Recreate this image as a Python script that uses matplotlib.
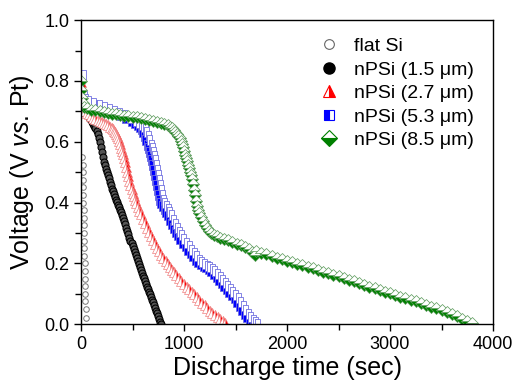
import numpy as np
import matplotlib
matplotlib.use("Agg")
import matplotlib.pyplot as plt
from matplotlib.lines import Line2D
from matplotlib.ticker import MultipleLocator, FormatStrFormatter

plt.rcParams['font.family'] = ['Liberation Sans', 'DejaVu Sans']
plt.rcParams['mathtext.fontset'] = 'custom'
plt.rcParams['mathtext.it'] = 'Liberation Sans:italic'
plt.rcParams['mathtext.rm'] = 'Liberation Sans'

# discharge curves (time in s, voltage in V vs Pt)
t_flat = [14, 15, 17, 18, 20, 21, 23, 24, 26, 27, 29, 30, 32, 33, 35, 36, 38, 39, 41, 42, 44, 45]
v_flat = [0.55, 0.525, 0.50, 0.475, 0.45, 0.425, 0.40, 0.375, 0.35, 0.325, 0.30, 0.275,
          0.25, 0.225, 0.20, 0.175, 0.15, 0.125, 0.10, 0.075, 0.05, 0.02]

t_15 = [0, 15, 30, 45, 60, 75, 90, 100, 110, 120, 130, 140, 150, 160, 170, 180, 190, 200,
        210, 220, 230, 240, 250, 260, 270, 280, 290, 300, 310, 320, 330, 340, 350, 360, 370,
        380, 390, 400, 410, 420, 430, 440, 450, 460, 470, 480, 490, 500, 510, 520, 530, 540,
        550, 560, 570, 580, 590, 600, 610, 620, 630, 640, 650, 660, 670, 680, 690, 700, 710,
        720, 730, 740, 750, 760, 770, 778]
v_15 = [0.700, 0.698, 0.695, 0.691, 0.687, 0.682, 0.676, 0.671, 0.665, 0.659, 0.652, 0.645,
        0.636, 0.626, 0.613, 0.598, 0.582, 0.565, 0.549, 0.535, 0.523, 0.512, 0.502, 0.492,
        0.480, 0.468, 0.457, 0.446, 0.437, 0.428, 0.419, 0.410, 0.401, 0.393, 0.385, 0.377,
        0.369, 0.360, 0.350, 0.340, 0.329, 0.318, 0.307, 0.296, 0.285, 0.275, 0.266, 0.257,
        0.248, 0.238, 0.228, 0.218, 0.207, 0.197, 0.187, 0.178, 0.169, 0.160, 0.151, 0.142,
        0.133, 0.124, 0.116, 0.107, 0.099, 0.090, 0.081, 0.072, 0.063, 0.054, 0.045, 0.036,
        0.027, 0.018, 0.009, 0.002]

t_27 = [0, 5, 20, 40, 60, 80, 100, 120, 140, 160, 180, 200, 220, 240, 260, 280, 300,
        310, 320, 330, 340, 350, 360, 370, 380, 390, 400, 410, 420, 430, 440, 450, 460, 470,
        480, 490, 500, 510, 520, 535, 550, 565, 580, 600, 620, 640, 660, 680, 700, 720, 740,
        760, 780, 800, 820, 840, 860, 880, 900, 925, 950, 975, 1000, 1025, 1050, 1075, 1100,
        1125, 1150, 1175, 1200, 1225, 1250, 1275, 1300, 1325, 1350, 1375, 1400]
v_27 = [0.795, 0.720, 0.703, 0.700, 0.695, 0.690, 0.684, 0.678, 0.674, 0.671, 0.668, 0.666,
        0.663, 0.660, 0.655, 0.650, 0.644, 0.641, 0.637, 0.632, 0.626, 0.620, 0.612, 0.603,
        0.592, 0.581, 0.570, 0.559, 0.548, 0.533, 0.518, 0.502, 0.487, 0.472, 0.458, 0.445,
        0.432, 0.421, 0.410, 0.398, 0.386, 0.374, 0.362, 0.346, 0.332, 0.318, 0.304, 0.290,
        0.277, 0.264, 0.252, 0.240, 0.229, 0.218, 0.207, 0.197, 0.188, 0.179, 0.171, 0.161,
        0.151, 0.142, 0.133, 0.124, 0.116, 0.107, 0.098, 0.089, 0.080, 0.071, 0.062, 0.053,
        0.045, 0.037, 0.030, 0.023, 0.016, 0.010, 0.004]

t_53 = [0, 5, 20, 50, 100, 150, 200, 250, 300, 350, 400, 450, 500, 530, 560, 580, 600, 615,
        630, 645, 660, 670, 680, 690, 700, 710, 720, 730, 740, 750, 760, 770, 780, 790, 805,
        820, 835, 850, 870, 890, 910, 930, 950, 975, 1000, 1025, 1050, 1075, 1100, 1125, 1150,
        1175, 1200, 1225, 1250, 1275, 1300, 1325, 1350, 1375, 1400, 1425, 1450, 1475, 1500,
        1525, 1550, 1575, 1600, 1625, 1650, 1670, 1685]
v_53 = [0.820, 0.750, 0.740, 0.735, 0.728, 0.722, 0.716, 0.709, 0.702, 0.695, 0.687, 0.679,
        0.669, 0.663, 0.656, 0.650, 0.641, 0.632, 0.620, 0.606, 0.590, 0.578, 0.565, 0.553,
        0.540, 0.524, 0.508, 0.491, 0.474, 0.457, 0.440, 0.425, 0.410, 0.398, 0.388, 0.378,
        0.368, 0.358, 0.344, 0.331, 0.318, 0.304, 0.293, 0.280, 0.267, 0.256, 0.245, 0.234,
        0.223, 0.213, 0.205, 0.199, 0.193, 0.187, 0.181, 0.174, 0.166, 0.157, 0.147, 0.136,
        0.126, 0.117, 0.107, 0.096, 0.086, 0.072, 0.059, 0.047, 0.035, 0.024, 0.013, 0.006,
        0.002]

t_85 = [0, 3, 8, 15, 30, 60, 100, 140, 180, 220, 260, 300, 340, 380, 420, 460, 500, 540, 580,
        620, 660, 700, 740, 780, 810, 840, 860, 880, 900, 915, 930, 945, 960, 970, 980, 990,
        1000, 1010, 1020, 1030, 1040, 1050, 1060, 1070, 1080, 1090, 1100, 1110, 1120, 1130,
        1140, 1150, 1165, 1180, 1200, 1220, 1240, 1260, 1290, 1320, 1350, 1390, 1430, 1470,
        1510, 1550, 1590, 1630, 1660, 1690, 1700, 1750, 1800, 1850, 1900, 1950, 2000, 2050,
        2100, 2150, 2200, 2250, 2300, 2350, 2400, 2450, 2500, 2550, 2600, 2650, 2700, 2750,
        2800, 2850, 2900, 2950, 3000, 3050, 3100, 3150, 3200, 3250, 3300, 3350, 3400, 3450,
        3500, 3550, 3600, 3650, 3700, 3750, 3800]
v_85 = [0.800, 0.770, 0.745, 0.728, 0.716, 0.710, 0.706, 0.703, 0.700, 0.698, 0.695, 0.693,
        0.691, 0.689, 0.686, 0.684, 0.682, 0.680, 0.678, 0.676, 0.673, 0.670, 0.666, 0.662,
        0.659, 0.655, 0.650, 0.645, 0.639, 0.633, 0.626, 0.619, 0.611, 0.603, 0.594, 0.583,
        0.571, 0.558, 0.547, 0.536, 0.524, 0.513, 0.502, 0.491, 0.477, 0.461, 0.442, 0.424,
        0.406, 0.389, 0.375, 0.365, 0.352, 0.340, 0.326, 0.316, 0.307, 0.300, 0.294, 0.290,
        0.285, 0.281, 0.277, 0.271, 0.265, 0.260, 0.254, 0.247, 0.239, 0.229, 0.240, 0.235,
        0.230, 0.225, 0.219, 0.214, 0.209, 0.204, 0.199, 0.194, 0.189, 0.184, 0.178, 0.173,
        0.168, 0.163, 0.158, 0.153, 0.147, 0.142, 0.136, 0.130, 0.124, 0.118, 0.112, 0.107,
        0.102, 0.096, 0.091, 0.086, 0.080, 0.075, 0.069, 0.063, 0.058, 0.052, 0.046, 0.040,
        0.033, 0.026, 0.019, 0.011, 0.004]

labels = ['flat Si', 'nPSi (1.5 μm)', 'nPSi (2.7 μm)', 'nPSi (5.3 μm)', 'nPSi (8.5 μm)']

fig = plt.figure(figsize=(5.13, 3.87), dpi=100)
ax = fig.add_axes([0.158, 0.162, 0.803, 0.786])

ax.plot(t_flat, v_flat, ls='none', marker='o', ms=4, mfc='white', mec='#777777', mew=0.7)
ax.plot(t_15, v_15, color='black', lw=1.5, marker='o', ms=5, mfc='#555555', mec='black', mew=0.8)
ax.plot(t_27, v_27, color='red', lw=1.5, marker='^', ms=6.5, fillstyle='right',
        mfc='red', mfcalt='white', mec='#f08080', mew=0.5)
ax.plot(t_53, v_53, color='blue', lw=3.5, marker='s', ms=6.5, fillstyle='left',
        mfc='blue', mfcalt='white', mec='#7070e0', mew=0.6)
ax.plot(t_85, v_85, color='green', lw=2, marker='D', ms=6.5, fillstyle='bottom',
        mfc='green', mfcalt='white', mec='#5a9a5a', mew=0.5)

handles = [
    Line2D([], [], ls='none', marker='o', ms=7, mfc='white', mec='#666666', mew=0.8),
    Line2D([], [], ls='none', marker='o', ms=8, mfc='black', mec='black'),
    Line2D([], [], ls='none', marker='^', ms=9, fillstyle='right', mfc='red',
           mfcalt='white', mec='red', mew=0.8),
    Line2D([], [], ls='none', marker='s', ms=7.5, fillstyle='left', mfc='blue',
           mfcalt='white', mec='blue', mew=0.8),
    Line2D([], [], ls='none', marker='D', ms=8, fillstyle='bottom', mfc='green',
           mfcalt='white', mec='green', mew=0.8),
]
ax.legend(handles, labels, loc='upper right', bbox_to_anchor=(0.995, 1.0), frameon=False,
          fontsize=14, handletextpad=0.5, labelspacing=0.3, handlelength=1.5)

ax.set_xlim(0, 4000)
ax.set_ylim(0, 1.0)
ax.xaxis.set_major_locator(MultipleLocator(1000))
ax.xaxis.set_minor_locator(MultipleLocator(500))
ax.yaxis.set_major_locator(MultipleLocator(0.2))
ax.yaxis.set_minor_locator(MultipleLocator(0.1))
ax.yaxis.set_major_formatter(FormatStrFormatter('%.1f'))
ax.tick_params(which='both', direction='out', labelsize=13, width=1)
ax.tick_params(which='major', length=5)
ax.tick_params(which='minor', length=4)
for s in ax.spines.values():
    s.set_linewidth(1)

ax.set_xlabel('Discharge time (sec)', fontsize=18, labelpad=2)
ax.set_ylabel('Voltage (V $\\mathit{vs.}\\,$Pt)', fontsize=18, labelpad=6)

fig.savefig('out.png', dpi=100)
